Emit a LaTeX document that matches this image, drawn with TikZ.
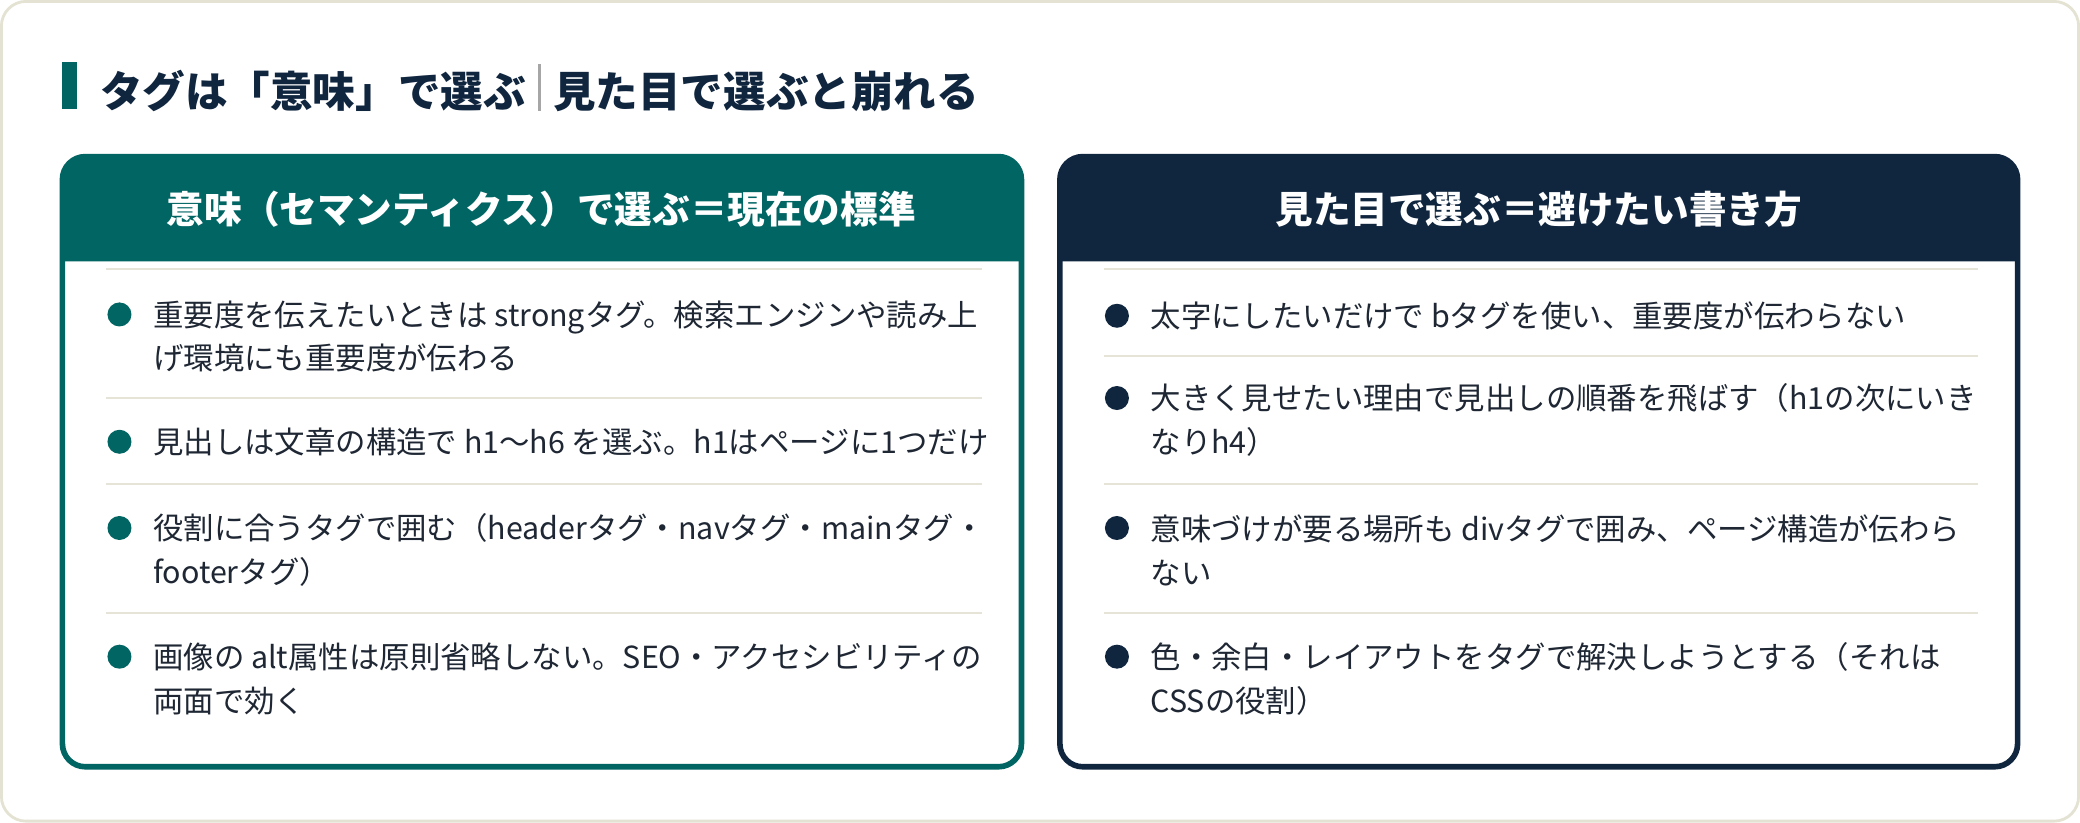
\documentclass[tikz,border=0pt]{standalone}
\usepackage{fontspec}
\setmainfont{Noto Sans CJK JP}
\usetikzlibrary{positioning}
\definecolor{tealc}{HTML}{006563}
\definecolor{navyc}{HTML}{10263F}
\definecolor{textc}{HTML}{1E2733}
\definecolor{sepc}{HTML}{E6E4D6}
\definecolor{framec}{HTML}{E4E2D2}
\begin{document}
\begin{tikzpicture}[x=0.013265cm, y=-0.013265cm,
    item/.style={anchor=west, inner sep=0pt, align=left, text=textc,
        font=\fontsize{8.65pt}{12.5pt}\selectfont},
    head/.style={text=white, font=\fontsize{10.7pt}{12pt}\selectfont\bfseries},
    dot/.style={circle, inner sep=0pt, minimum size=0.24cm},
    sep/.style={draw=sepc, line width=0.6pt}]
    % frame
    \draw[framec, line width=0.8pt, fill=white, rounded corners=7pt] (1,1) rectangle (1567,619);
    \useasboundingbox (0,0) rectangle (1568,620);

    % title
    \fill[tealc] (47,47) rectangle (58,82);
    \node[anchor=west, inner sep=0pt, text=navyc, font=\fontsize{12.1pt}{14pt}\selectfont\bfseries] (title) at (75,66)
        {タグは「意味」で選ぶ\hspace{0.3em}{\color{gray!70}\raisebox{-0.15ex}{\rule{0.6pt}{1.1em}}}\hspace{0.3em}見た目で選ぶと崩れる};

    % semantic card
    \fill[tealc] (47,197) [rounded corners=6.5pt] -- (47,118) -- (770,118) [sharp corners] -- (770,197) -- cycle;
    \draw[tealc, line width=1.6pt, rounded corners=6.5pt] (47,118) rectangle (770,578);
    \node[head] (lhead) at (408,158) {意味（セマンティクス）で選ぶ＝現在の標準};
    \draw[sep] (80,203) -- (740,203);
    \draw[sep] (80,300) -- (740,300);
    \draw[sep] (80,365) -- (740,365);
    \draw[sep] (80,462) -- (740,462);
    \node[dot, fill=tealc] (l1) at (90,237) {};
    \node[item, right=0.33cm of l1.center, yshift=-0.22cm] (t1) {重要度を伝えたいときは strongタグ。検索エンジンや読み上\\げ環境にも重要度が伝わる};
    \node[dot, fill=tealc] (l2) at (90,333) {};
    \node[item, right=0.33cm of l2.center] (t2) {見出しは文章の構造で h1〜h6 を選ぶ。h1はページに1つだけ};
    \node[dot, fill=tealc] (l3) at (90,398) {};
    \node[item, right=0.33cm of l3.center, yshift=-0.22cm] (t3) {役割に合うタグで囲む（headerタグ・navタグ・mainタグ・\\footerタグ）};
    \node[dot, fill=tealc] (l4) at (90,495) {};
    \node[item, right=0.33cm of l4.center, yshift=-0.22cm] (t4) {画像の alt属性は原則省略しない。SEO・アクセシビリティの\\両面で効く};

    % visual card
    \fill[navyc] (799,197) [rounded corners=6.5pt] -- (799,118) -- (1521,118) [sharp corners] -- (1521,197) -- cycle;
    \draw[navyc, line width=1.6pt, rounded corners=6.5pt] (799,118) rectangle (1521,578);
    \node[head] (rhead) at (1160,158) {見た目で選ぶ＝避けたい書き方};
    \draw[sep] (832,203) -- (1491,203);
    \draw[sep] (832,268) -- (1491,268);
    \draw[sep] (832,365) -- (1491,365);
    \draw[sep] (832,462) -- (1491,462);
    \node[dot, fill=navyc] (r1) at (842,238) {};
    \node[item, right=0.33cm of r1.center] (s1) {太字にしたいだけで bタグを使い、重要度が伝わらない};
    \node[dot, fill=navyc] (r2) at (842,300) {};
    \node[item, right=0.33cm of r2.center, yshift=-0.22cm] (s2) {大きく見せたい理由で見出しの順番を飛ばす（h1の次にいき\\なりh4）};
    \node[dot, fill=navyc] (r3) at (842,398) {};
    \node[item, right=0.33cm of r3.center, yshift=-0.22cm] (s3) {意味づけが要る場所も divタグで囲み、ページ構造が伝わら\\ない};
    \node[dot, fill=navyc] (r4) at (842,495) {};
    \node[item, right=0.33cm of r4.center, yshift=-0.22cm] (s4) {色・余白・レイアウトをタグで解決しようとする（それは\\CSSの役割）};
\end{tikzpicture}
\end{document}
